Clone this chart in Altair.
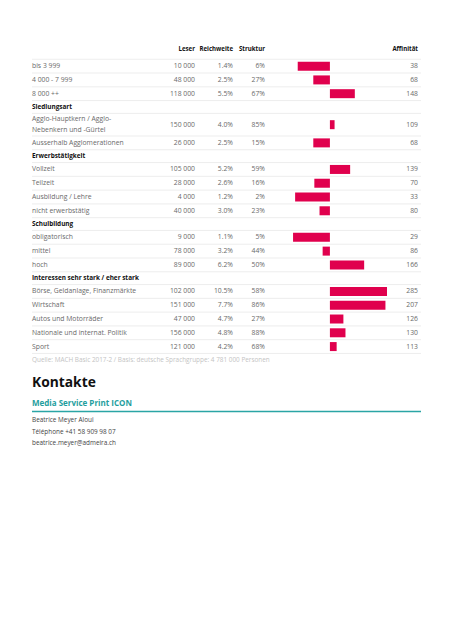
import altair as alt
import pandas as pd

# ---------------- data ----------------
labels = [
    "bis 3 999", "4 000 - 7 999", "8 000 ++",
    "Siedlungsart",
    "Agglo-Hauptkern / Agglo-\nNebenkern und -Gürtel", "Ausserhalb Agglomerationen",
    "Erwerbstätigkeit",
    "Vollzeit", "Teilzeit", "Ausbildung / Lehre", "nicht erwerbstätig",
    "Schulbildung",
    "obligatorisch", "mittel", "hoch",
    "Interessen sehr stark / eher stark",
    "Börse, Geldanlage, Finanzmärkte", "Wirtschaft", "Autos und Motorräder",
    "Nationale und internat. Politik", "Sport",
]
is_header = [0, 0, 0, 1, 0, 0, 1, 0, 0, 0, 0, 1, 0, 0, 0, 1, 0, 0, 0, 0, 0]
leser = [10000, 48000, 118000, None, 150000, 26000, None, 105000, 28000, 4000, 40000,
         None, 9000, 78000, 89000, None, 102000, 151000, 47000, 156000, 121000]
reichweite = [1.4, 2.5, 5.5, None, 4.0, 2.5, None, 5.2, 2.6, 1.2, 3.0,
              None, 1.1, 3.2, 6.2, None, 10.5, 7.7, 4.7, 4.8, 4.2]
struktur = [6, 27, 67, None, 85, 15, None, 59, 16, 2, 23,
            None, 5, 44, 50, None, 58, 86, 27, 88, 68]
affinitaet = [38, 68, 148, None, 109, 68, None, 139, 70, 33, 80,
              None, 29, 86, 166, None, 285, 207, 126, 130, 113]

col_headers = ["Leser", "Reichweite", "Struktur", "Affinität"]
source_note = "Quelle: MACH Basic 2017-2 / Basis: deutsche Sprachgruppe: 4 781 000 Personen"
contact_title = "Kontakte"
contact_dept = "Media Service Print ICON"
contact_lines = ["Beatrice Meyer Aloui", "Téléphone +41 58 909 98 07", "beatrice.meyer@admeira.ch"]

# ---------------- layout ----------------
W, H = 437, 624
FONT = "Open Sans"
TOP = 47
LINE_H = 11
rows = []
y = TOP
for i, lab in enumerate(labels):
    nlines = lab.count("\n") + 1
    if is_header[i]:
        h = 13
    elif nlines > 1:
        h = 23
    else:
        h = 14
    rows.append(dict(
        label=lab,
        header=is_header[i],
        yc=y + h / 2,
        ylab=y + h / 2 - LINE_H / 2 * (nlines - 1),
        ybot=y + h,
        leser=("" if leser[i] is None else f"{leser[i]:,}".replace(",", " ")),
        reich=("" if reichweite[i] is None else f"{reichweite[i]:.1f}%"),
        strukt=("" if struktur[i] is None else f"{struktur[i]}%"),
        aff=affinitaet[i],
        afftxt=("" if affinitaet[i] is None else str(affinitaet[i])),
    ))
    y += h
df = pd.DataFrame(rows)
seps = pd.DataFrame({"y": [TOP] + list(df["ybot"])})

yscale = alt.Scale(domain=[0, H], range=[0, H])
Y = lambda f: alt.Y(f, type="quantitative", scale=yscale, axis=None)

base = alt.Chart(df)

rules = alt.Chart(seps).mark_rule(color="#e9e9e9", strokeWidth=0.8).encode(
    y=Y("y"), x=alt.value(24), x2=alt.value(413))

GRAY = "#6a6a6a"

def txt(align="right", bold=False, color=GRAY, size=6.8, **kw):
    return dict(align=align, baseline="middle", font=FONT, fontSize=size,
                fontWeight="bold" if bold else "normal", color=color, **kw)

lab_reg = base.transform_filter("datum.header == 0").mark_text(
    **txt("left", lineBreak="\n", lineHeight=LINE_H)).encode(
    x=alt.value(24), y=Y("ylab"), text="label:N")
lab_head = base.transform_filter("datum.header == 1").mark_text(
    **txt("left", bold=True, color="#111111", size=6.4)).encode(
    x=alt.value(24), y=Y("yc"), text="label:N")

t_leser = base.mark_text(**txt()).encode(x=alt.value(187), y=Y("yc"), text="leser:N")
t_reich = base.mark_text(**txt()).encode(x=alt.value(225), y=Y("yc"), text="reich:N")
t_strukt = base.mark_text(**txt()).encode(x=alt.value(257), y=Y("yc"), text="strukt:N")
t_aff = base.mark_text(**txt()).encode(x=alt.value(410), y=Y("yc"), text="afftxt:N")

bars = base.transform_filter("datum.aff != null").mark_bar(
    orient="horizontal", size=9, color="#E0004D").encode(
    x=alt.X("aff:Q", scale=alt.Scale(domain=[0, 210], range=[270, 379], clamp=True), axis=None),
    x2=alt.datum(100),
    y=Y("yc"))

hdr_x = [187, 225, 257, 410]
headers = [
    alt.Chart(pd.DataFrame({"t": [name]})).mark_text(
        **txt(bold=True, color="#111111", size=6.1)).encode(
        x=alt.value(px), y=alt.value(41), text="t:N")
    for name, px in zip(col_headers, hdr_x)
]

note = alt.Chart(pd.DataFrame({"t": [source_note]})).mark_text(
    **txt("left", color="#c4c4c4", size=6.4)).encode(
    x=alt.value(24), y=alt.value(352), text="t:N")

kontakte = alt.Chart(pd.DataFrame({"t": [contact_title]})).mark_text(
    **txt("left", bold=True, color="#111111", size=13.8)).encode(
    x=alt.value(24), y=alt.value(375), text="t:N")

dept = alt.Chart(pd.DataFrame({"t": [contact_dept]})).mark_text(
    **txt("left", bold=True, color="#1f9e9e", size=8)).encode(
    x=alt.value(24), y=alt.value(396), text="t:N")

teal_rule = alt.Chart(pd.DataFrame({"a": [0]})).mark_rule(
    color="#2aa5a5", strokeWidth=1.3).encode(
    x=alt.value(24), x2=alt.value(413), y=alt.value(403.5))

contact_df = pd.DataFrame({"t": contact_lines, "yy": [414, 425.5, 437]})
contacts = alt.Chart(contact_df).mark_text(
    **txt("left", color="#444444", size=6.4)).encode(
    x=alt.value(24), y=alt.Y("yy:Q", scale=yscale, axis=None), text="t:N")

chart = alt.layer(
    rules, bars, lab_reg, lab_head, t_leser, t_reich, t_strukt, t_aff,
    *headers, note, kontakte, dept, teal_rule, contacts
).properties(
    width=W, height=H, autosize="none", padding=0, background="white"
).configure_view(stroke=None)

chart.save("out.html", embed_options={"renderer": "svg", "actions": False})
